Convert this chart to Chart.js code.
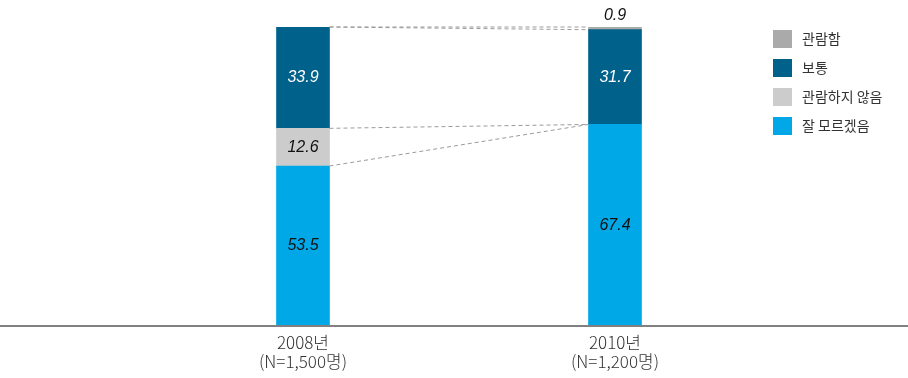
<!DOCTYPE html>
<html>
<head>
<meta charset="utf-8">
<script src="https://cdn.jsdelivr.net/npm/chart.js@4.4.1/dist/chart.umd.min.js"></script>
<style>
  html, body { margin: 0; padding: 0; background: #fff; }
  #wrap { width: 908px; height: 378px; }
</style>
</head>
<body>
<div id="wrap"><canvas id="myChart"></canvas></div>
<script>
const years = [['2008년', '(N=1,500명)'], ['2010년', '(N=1,200명)']];
const dontKnow = [53.5, 67.4];   // 잘 모르겠음
const notSeen = [12.6, 0];       // 관람하지 않음
const normal = [33.9, 31.7];     // 보통
const seen = [0, 0.9];           // 관람함

const ctx = document.getElementById('myChart');

// dashed connectors between the two bars at each stack boundary
const connectors = {
  id: 'connectors',
  afterDatasetsDraw(chart) {
    const c = chart.ctx;
    c.save();
    c.strokeStyle = '#9a9a9a';
    c.lineWidth = 1;
    c.setLineDash([4, 3]);
    chart.data.datasets.forEach((ds, i) => {
      const bars = chart.getDatasetMeta(i).data;
      const a = bars[0], b = bars[1];
      c.beginPath();
      c.moveTo(a.x + a.width / 2, a.y);
      c.lineTo(b.x - b.width / 2, b.y);
      c.stroke();
    });
    c.restore();
  }
};

// value labels
const valueLabels = {
  id: 'valueLabels',
  afterDatasetsDraw(chart) {
    const c = chart.ctx;
    c.save();
    c.font = 'italic 16px "Liberation Sans", Arial, sans-serif';
    c.textAlign = 'center';
    c.textBaseline = 'middle';
    chart.data.datasets.forEach((ds, i) => {
      chart.getDatasetMeta(i).data.forEach((bar, j) => {
        const v = ds.data[j];
        if (!v) return;
        let y = (bar.y + bar.base) / 2;
        if (v < 3) y = bar.y - 11;
        c.fillStyle = ds.labelColor;
        c.fillText(v.toFixed(1), bar.x, y);
      });
    });
    c.restore();
  }
};

// baseline across the full width
const baseline = {
  id: 'baseline',
  afterDraw(chart) {
    const c = chart.ctx;
    const y = chart.scales.y.getPixelForValue(0);
    c.save();
    c.strokeStyle = '#808080';
    c.lineWidth = 2;
    c.beginPath();
    c.moveTo(0, y);
    c.lineTo(chart.width, y);
    c.stroke();
    c.restore();
  }
};

// legend to the right of the plot, top series first
const sideLegend = {
  id: 'sideLegend',
  afterDraw(chart) {
    const c = chart.ctx;
    const x0 = chart.chartArea.right + 2;
    const y0 = chart.chartArea.top + 3;
    c.save();
    c.font = '14px "Noto Sans CJK KR", sans-serif';
    c.textBaseline = 'middle';
    const items = chart.data.datasets.slice().reverse();
    items.forEach((ds, k) => {
      const y = y0 + k * 29;
      c.fillStyle = ds.backgroundColor;
      c.fillRect(x0, y, 19, 18);
      c.fillStyle = '#333';
      c.fillText(ds.label, x0 + 29, y + 9);
    });
    c.restore();
  }
};

const data = {
  labels: years,
  datasets: [
    { label: '잘 모르겠음', data: dontKnow, backgroundColor: '#00a8e8', labelColor: '#111' },
    { label: '관람하지 않음', data: notSeen, backgroundColor: '#cccccc', labelColor: '#111' },
    { label: '보통', data: normal, backgroundColor: '#00628b', labelColor: '#fff' },
    { label: '관람함', data: seen, backgroundColor: '#aaaaaa', labelColor: '#111' }
  ]
};

const config = {
  type: 'bar',
  data: data,
  options: {
    responsive: true,
    maintainAspectRatio: false,
    animation: false,
    layout: {
      padding: { top: 27, left: 147, right: 137, bottom: 0 }
    },
    datasets: {
      bar: { barThickness: 53 }
    },
    plugins: {
      tooltip: { enabled: false },
      legend: { display: false }
    },
    scales: {
      x: {
        stacked: true,
        grid: { display: false, drawTicks: false },
        border: { display: false },
        ticks: {
          color: '#333',
          padding: 7,
          font: { family: '"Noto Sans CJK KR", sans-serif', size: 17, weight: 300, lineHeight: 1.12 }
        }
      },
      y: {
        stacked: true,
        display: false,
        min: 0,
        max: 100
      }
    }
  },
  plugins: [connectors, valueLabels, baseline, sideLegend]
};

let chart = new Chart(ctx, config);
</script>
</body>
</html>
